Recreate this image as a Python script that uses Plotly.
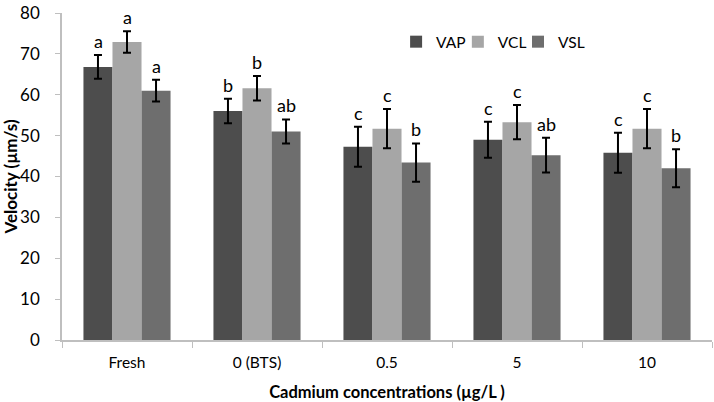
import plotly.graph_objects as go

categories = ["Fresh", "0 (BTS)", "0.5", "5", "10"]
vap = [66.8, 56.0, 47.3, 49.0, 45.8]
vcl = [72.9, 61.6, 51.7, 53.3, 51.7]
vsl = [61.0, 51.0, 43.4, 45.2, 42.0]
vap_err = [2.9, 3.0, 4.9, 4.4, 4.9]
vcl_err = [2.65, 3.0, 4.8, 4.2, 4.8]
vsl_err = [2.65, 2.95, 4.7, 4.25, 4.65]
vap_letters = ["a", "b", "c", "c", "c"]
vcl_letters = ["a", "b", "c", "c", "c"]
vsl_letters = ["a", "ab", "b", "ab", "b"]

series = [
    ("VAP", vap, vap_err, vap_letters, "#4d4d4d", -29, "legend", 0.514),
    ("VCL", vcl, vcl_err, vcl_letters, "#a6a6a6", 0, "legend2", 0.609),
    ("VSL", vsl, vsl_err, vsl_letters, "#6e6e6e", 29, "legend3", 0.7015),
]

font = "Lato, 'Open Sans', sans-serif"
fig = go.Figure()
annotations = []
legends = {}
for name, vals, errs, letters, color, shift, leg, lx in series:
    fig.add_trace(go.Bar(
        name=name, x=categories, y=vals, marker_color=color,
        marker_line_width=0, legend=leg, showlegend=True,
        error_y=dict(type="data", array=errs, visible=True, color="black",
                     thickness=2, width=4),
    ))
    legends[leg] = dict(orientation="h", x=lx, y=0.911, xanchor="left", yanchor="middle",
                        font=dict(size=15.5), itemwidth=30, bgcolor="rgba(0,0,0,0)")
    for i, (v, e, l) in enumerate(zip(vals, errs, letters)):
        annotations.append(dict(x=i, y=v + e, xref="x", yref="y", text=l, showarrow=False,
                                xshift=shift, yshift=1, yanchor="bottom",
                                font=dict(size=18, color="black", family=font)))

fig.update_layout(
    width=714, height=402,
    margin=dict(l=62, r=2, t=9, b=62),
    paper_bgcolor="white", plot_bgcolor="white",
    showlegend=True,
    barmode="group", bargap=0.33, bargroupgap=0,
    font=dict(family=font, size=16, color="black"),
    annotations=annotations,
    **legends,
    xaxis=dict(type="category", range=[-0.5, 4.5], showline=True, linecolor="#bfbfbf", linewidth=1.5,
               ticks="outside", tickson="boundaries", ticklen=6, tickcolor="#bfbfbf",
               ticklabelstandoff=8,
               title=dict(text="<b>Cadmium concentrations (µg/L )</b>", font=dict(size=16.5), standoff=17),
               tickfont=dict(size=15.5)),
    yaxis=dict(range=[0, 80], dtick=10, showline=True, linecolor="#bfbfbf", linewidth=1.5,
               ticks="outside", ticklen=5, tickcolor="#bfbfbf", showgrid=False,
               zeroline=False, ticklabeloverflow="allow", ticklabelstandoff=12,
               title=dict(text="<b>Velocity (µm/s)</b>", font=dict(size=17), standoff=0),
               tickfont=dict(size=17)),
)

fig.write_html("out.html", post_script="document.body.style.margin='0px';",
               config={"displayModeBar": False})
